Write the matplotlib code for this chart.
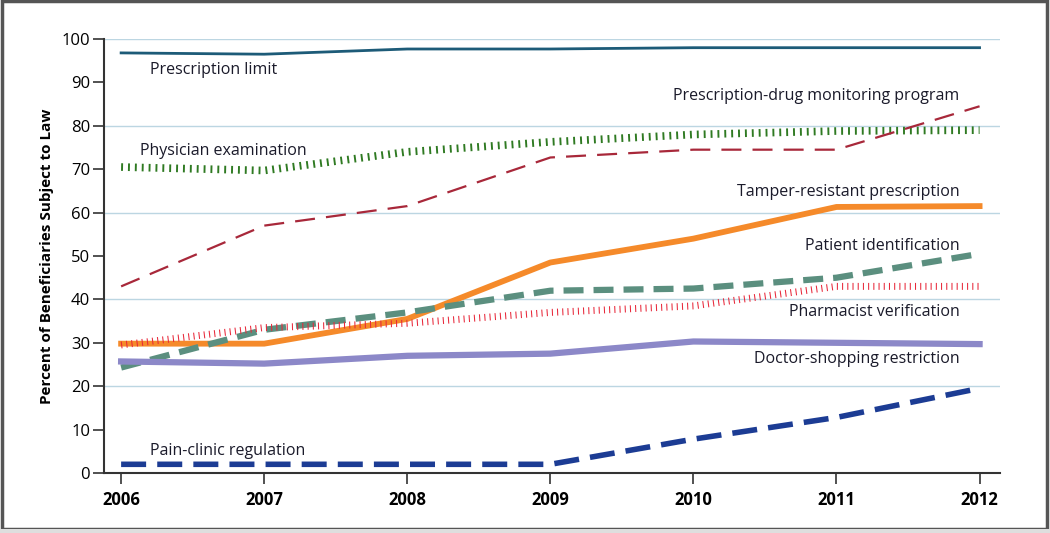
import matplotlib.pyplot as plt
from matplotlib.patches import Rectangle

years = [2006, 2007, 2008, 2009, 2010, 2011, 2012]

prescription_limit = [96.8, 96.5, 97.7, 97.7, 98.0, 98.0, 98.0]
physician_exam = [70.5, 69.7, 74.0, 76.3, 78.0, 78.8, 79.0]
pdmp = [43.0, 57.0, 61.5, 72.7, 74.5, 74.5, 84.5]
tamper_resistant = [29.8, 29.8, 35.5, 48.5, 54.0, 61.3, 61.5]
patient_id = [24.3, 33.0, 37.0, 42.0, 42.5, 45.0, 50.5]
pharmacist = [29.5, 33.5, 34.5, 37.0, 38.5, 43.0, 43.0]
doctor_shopping = [25.7, 25.2, 27.0, 27.5, 30.3, 30.0, 29.7]
pain_clinic = [2.0, 2.0, 2.0, 2.0, 7.8, 12.8, 19.5]

plt.rcParams['font.family'] = ['Open Sans', 'DejaVu Sans']

fig = plt.figure(figsize=(10.5, 5.33), dpi=100)
ax = fig.add_axes([0.099, 0.1126, 0.853, 0.8142])

# figure frame
fig.patches.append(Rectangle((0.0015, 0.008), 0.9955, 0.9895, transform=fig.transFigure,
                             fill=False, edgecolor='#555555', linewidth=2.5))
fig.patches.append(Rectangle((0, 0), 1, 0.008, transform=fig.transFigure,
                             facecolor='#dedede', edgecolor='none'))

for g in [20, 40, 60, 80, 100]:
    ax.axhline(g, color='#bcd6e2', linewidth=1, zorder=0)

ax.plot(years, prescription_limit, color='#1d5b78', linewidth=2)
ax.plot(years, physician_exam, color='#2f7a22', linewidth=5.5,
        linestyle=(0, (0.25, 0.65)))
ax.plot(years, pdmp, color='#a8283a', linewidth=1.6, linestyle=(0, (9, 5)))
ax.plot(years, tamper_resistant, color='#f58a2a', linewidth=4.2)
ax.plot(years, patient_id, color='#5b8f7f', linewidth=4.5, linestyle=(0, (3.2, 1.6)))
ax.plot(years, pharmacist, color='#e8283a', linewidth=5, linestyle=(0, (0.15, 0.6)))
ax.plot(years, doctor_shopping, color='#8c88c8', linewidth=4.5)
ax.plot(years, pain_clinic, color='#1c3c94', linewidth=4, linestyle=(0, (4.5, 2)))

tc = '#1a1a2a'
fs = 11.5
ax.text(2006.2, 92.8, 'Prescription limit', color=tc, fontsize=fs, va='center', ha='left')
ax.text(2011.86, 86.8, 'Prescription-drug monitoring program', color=tc, fontsize=fs,
        va='center', ha='right')
ax.text(2006.13, 74.1, 'Physician examination', color=tc, fontsize=fs, va='center', ha='left')
ax.text(2011.86, 64.8, 'Tamper-resistant prescription', color=tc, fontsize=fs,
        va='center', ha='right')
ax.text(2011.86, 52.3, 'Patient identification', color=tc, fontsize=fs, va='center', ha='right')
ax.text(2011.86, 37.1, 'Pharmacist verification', color=tc, fontsize=fs, va='center', ha='right')
ax.text(2011.86, 26.3, 'Doctor-shopping restriction', color=tc, fontsize=fs,
        va='center', ha='right')
ax.text(2006.2, 5.1, 'Pain-clinic regulation', color=tc, fontsize=fs, va='center', ha='left')

ax.set_xlim(2005.88, 2012.14)
ax.set_ylim(0, 100)
ax.set_xticks(years)
ax.set_yticks(range(0, 101, 10))
ax.tick_params(axis='y', length=8, width=1.2, color='#333333', labelsize=12, pad=2)
ax.tick_params(axis='x', length=8, width=1.2, color='#333333', labelsize=12, pad=5)
for lbl in ax.get_xticklabels():
    lbl.set_fontweight('bold')
ax.spines['top'].set_visible(False)
ax.spines['right'].set_visible(False)
ax.spines['left'].set_color('#333333')
ax.spines['bottom'].set_color('#333333')
ax.spines['left'].set_linewidth(1.5)
ax.spines['bottom'].set_linewidth(1.5)
ax.set_ylabel('Percent of Beneficiaries Subject to Law', fontsize=11, fontweight='bold',
              labelpad=5)

fig.savefig('out.png', dpi=100)
